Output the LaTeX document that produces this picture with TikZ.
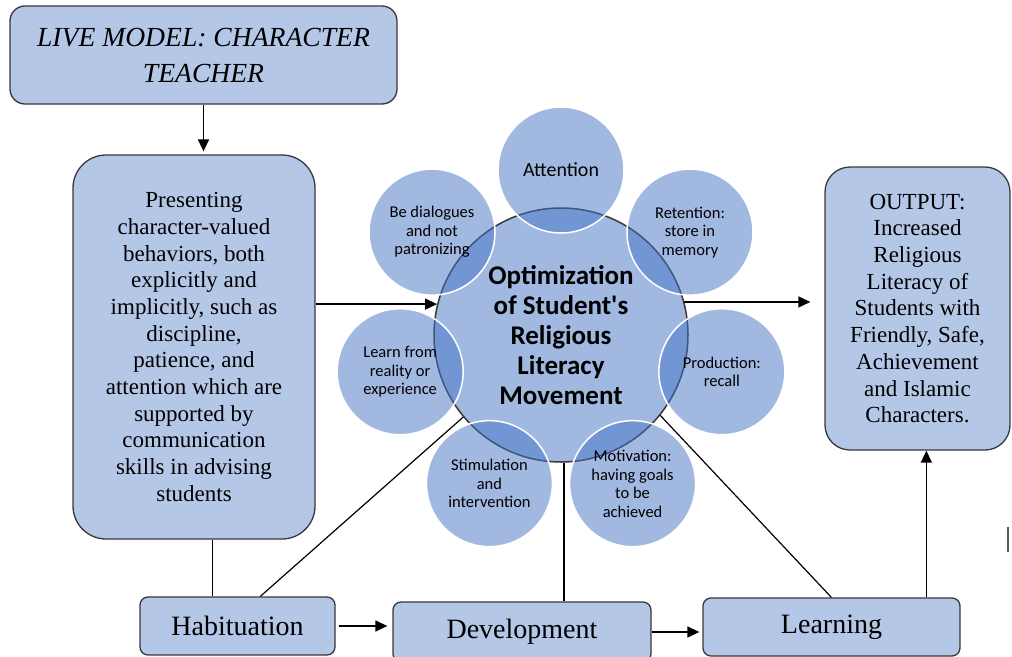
\documentclass[tikz,border=0pt]{standalone}
\usepackage{fontspec}
\setmainfont{Liberation Serif}
\newfontfamily\calibri{Carlito}
\usetikzlibrary{arrows.meta,calc}
\definecolor{boxblue}{HTML}{B4C7E7}
\definecolor{accent}{HTML}{4472C4}
\definecolor{edge}{HTML}{383838}
\begin{document}
\begin{tikzpicture}[x=1pt,y=-1pt,
  box/.style={draw=edge, line width=1.3pt, fill=boxblue, inner sep=0pt, align=center, font=\fontsize{23}{26.7}\selectfont},
  arr/.style={-{Triangle[length=12pt,width=11pt]}, line width=1.4pt},
  conn/.style={line width=1.2pt},
  petal/.style={circle, minimum size=126pt, inner sep=0pt, fill=accent, fill opacity=0.5, text opacity=1, draw=white, line width=1.5pt, align=center, font=\calibri\fontsize{16.5}{18.5}\selectfont},
  center text/.style={align=center, font=\calibri\bfseries\fontsize{27}{30}\selectfont},
]
\useasboundingbox (0,0) rectangle (1012,656);
\clip (0,0) rectangle (1012,656);

% boxes
\node[box, rounded corners=15pt, minimum width=387pt, minimum height=98pt, font=\itshape\fontsize{27.6}{36}\selectfont] (tb) at (203.5,55) {LIVE MODEL: CHARACTER\\TEACHER};
\node[box, rounded corners=33pt, minimum width=242pt, minimum height=384pt] (lb) at (194,347) {Presenting\\character-valued\\behaviors, both\\explicitly and\\implicitly, such as\\discipline,\\patience, and\\attention which are\\supported by\\communication\\skills in advising\\students};
\node[box, rounded corners=25pt, minimum width=185pt, minimum height=283pt] (rb) at (917.5,308.5) {OUTPUT:\\Increased\\Religious\\Literacy of\\Students with\\Friendly, Safe,\\Achievement\\and Islamic\\Characters.};
\node[box, rounded corners=8pt, minimum width=195pt, minimum height=58pt, font=\fontsize{28}{32}\selectfont] (hab) at (237.5,626) {Habituation};
\node[box, rounded corners=8pt, minimum width=258pt, minimum height=60pt, font=\fontsize{28}{32}\selectfont] (dev) at (522,632) {Development};
\node[box, rounded corners=8pt, minimum width=257pt, minimum height=58pt, font=\fontsize{28}{32}\selectfont] (learn) at (831.5,627) {Learning};

% central circle and petals
\node[circle, minimum size=254pt, inner sep=0pt, fill=accent, fill opacity=0.5, draw=edge, draw opacity=1, line width=1.5pt] (bigc) at (561,335) {};
\node[petal] (p1) at ([shift={(90:165pt)}]bigc.center) {\fontsize{20}{22}\selectfont Attention};
\node[petal] (p2) at ([shift={(141.43:165pt)}]bigc.center) {Be dialogues\\and not\\patronizing};
\node[petal] (p3) at ([shift={(192.86:165pt)}]bigc.center) {Learn from\\reality or\\experience};
\node[petal] (p4) at ([shift={(244.29:165pt)}]bigc.center) {Stimulation\\and\\intervention};
\node[petal] (p5) at ([shift={(295.71:165pt)}]bigc.center) {Motivation:\\having goals\\to be\\achieved};
\node[petal] (p6) at ([shift={(347.14:165pt)}]bigc.center) {Production:\\recall};
\node[petal] (p7) at ([shift={(38.57:165pt)}]bigc.center) {Retention:\\store in\\memory};
\node[center text] (ctext) at (bigc.center) {Optimization\\of Student\textquotesingle s\\Religious\\Literacy\\Movement};

% connectors
\draw[arr, shorten >=3pt] (tb.south) -- (tb.south |- lb.north);
\draw[arr] (lb.east |- bigc.166) -- (bigc.166);
\draw[arr, shorten >=14pt] (bigc.15) -- (bigc.15 -| rb.west);
\coordinate (h1) at ([xshift=73pt]hab.north west);
\draw[conn] (h1) -- (h1 |- lb.south);
\coordinate (h2) at ([xshift=121pt]hab.north west);
\draw[conn] (h2) -- (bigc.220);
\coordinate (c1) at ([xshift=3pt]bigc.south);
\draw[conn] (c1) -- (c1 |- dev.north);
\coordinate (l1) at ([xshift=129pt]learn.north west);
\draw[conn] (bigc.321) -- (l1);
\coordinate (l2) at ([xshift=224pt]learn.north west);
\draw[arr] (l2) -- (l2 |- rb.south);
\draw[arr, shorten <=3pt, shorten >=5pt] (hab.east) -- (hab.east -| dev.west);
\draw[arr, shorten >=3pt] (dev.east) -- (dev.east -| learn.west);

% cursor mark
\coordinate (m1) at (1008,527);
\coordinate (m2) at (1008,552);
\draw[line width=2pt, black!65] (m1) -- (m2);
\end{tikzpicture}
\end{document}
